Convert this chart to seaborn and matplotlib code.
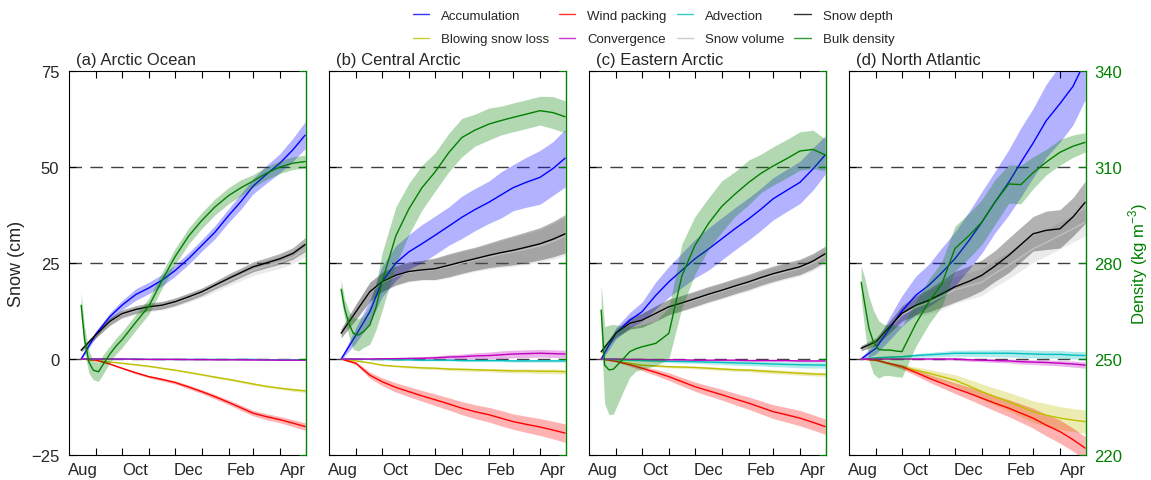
import matplotlib
matplotlib.use("Agg")
import matplotlib.pyplot as plt
from matplotlib.lines import Line2D
import numpy as np
import seaborn as sns

# days since 1 Aug
days = [14, 31, 47, 61, 77, 92, 107, 122, 138, 153, 168, 184, 198, 212, 227, 243, 258, 272]
dens_days = [14, 18, 23, 28, 34, 40, 47, 54, 61, 77, 92, 107, 122, 138, 153, 168,
             184, 198, 212, 227, 243, 258, 272]

month_starts = [0, 31, 61, 92, 122, 153, 184, 212, 243, 273]
month_mids = [15.5, 76.5, 137.5, 198, 258]
month_labels = ["Aug", "Oct", "Dec", "Feb", "Apr"]

panels = ["a", "b", "c", "d"]
titles = ["(a) Arctic Ocean", "(b) Central Arctic", "(c) Eastern Arctic", "(d) North Atlantic"]

# snow budget terms (cm) and their spread
accumulation = {
    "a": [0, 6.5, 11, 14, 16.8, 18.5, 20.5, 23, 26.2, 29.6, 33, 37.4, 41, 45, 48, 51, 54.5, 58.3],
    "b": [0, 6.2, 12.3, 20.1, 25, 27.9, 30, 32.2, 34.6, 36.9, 38.9, 40.8, 42.7, 44.6, 46, 47.3, 49.6, 52.3],
    "c": [0, 6.7, 10.1, 12.3, 16.6, 20.1, 23.1, 26.1, 28.7, 31.3, 33.9, 36.5, 39, 41.7, 43.8, 46, 49.5, 53.1],
    "d": [0, 2.8, 8, 12.5, 16.6, 19.2, 22.5, 26.1, 30.8, 35.6, 40.8, 46, 51.2, 56.2, 62, 66.5, 71, 77.5],
}
accumulation_sd = {
    "a": [0.3, 0.8, 1, 1.2, 1.5, 1.5, 1.5, 1.5, 1.5, 1.5, 1.7, 1.8, 2, 2, 2.3, 2.5, 3, 3.5],
    "b": [0.3, 2, 3, 4, 4.5, 4.5, 5, 5, 5, 5.5, 5.5, 5.5, 6, 6, 6.5, 7, 7, 7.5],
    "c": [0.5, 1.5, 2, 2.5, 3.5, 4, 4.5, 5, 5.5, 5.5, 5.5, 5.5, 5.5, 5.5, 5.5, 5.5, 5.5, 5],
    "d": [0.5, 1.5, 3, 4, 5, 5.5, 6.5, 7, 7.5, 8, 8, 8.5, 9, 9, 9.5, 10, 10, 10],
}
blowing = {
    "a": [0, -0.4, -0.8, -1.1, -1.5, -1.9, -2.4, -2.9, -3.5, -4.1, -4.7, -5.3, -5.9, -6.5, -7.1, -7.6, -8.0, -8.3],
    "b": [0, -0.5, -1.0, -1.6, -1.9, -2.1, -2.3, -2.4, -2.6, -2.7, -2.8, -2.9, -3.0, -3.1, -3.1, -3.2, -3.2, -3.3],
    "c": [0, -0.5, -1.1, -1.6, -1.8, -2.0, -2.1, -2.2, -2.4, -2.6, -2.8, -2.9, -3.1, -3.3, -3.5, -3.7, -3.9, -4.0],
    "d": [0, -0.3, -1.2, -2, -2.9, -3.7, -4.6, -5.5, -7, -8.5, -9.8, -11.1, -12.4, -13.7, -14.6, -15.4, -15.9, -16.3],
}
blowing_sd = {
    "a": [0, 0.1, 0.1, 0.1, 0.2, 0.2, 0.2, 0.2, 0.2, 0.2, 0.3, 0.3, 0.3, 0.3, 0.3, 0.3, 0.4, 0.4],
    "b": [0, 0.1, 0.1, 0.2, 0.2, 0.3, 0.3, 0.3, 0.4, 0.4, 0.4, 0.4, 0.5, 0.5, 0.5, 0.6, 0.6, 0.6],
    "c": [0, 0.1, 0.1, 0.2, 0.2, 0.3, 0.3, 0.3, 0.4, 0.4, 0.4, 0.4, 0.5, 0.5, 0.5, 0.5, 0.5, 0.5],
    "d": [0, 0.1, 0.3, 0.5, 0.8, 1, 1.2, 1.4, 1.7, 2, 2.2, 2.4, 2.6, 2.8, 3, 3, 3, 3],
}
wind = {
    "a": [0, -0.3, -1.3, -2.4, -3.6, -4.6, -5.3, -6.1, -7.3, -8.5, -9.8, -11.3, -12.7, -14.1, -15.0, -15.8, -16.7, -17.6],
    "b": [0, -1.1, -4.2, -5.9, -7.4, -8.5, -9.6, -10.6, -11.7, -12.8, -13.7, -14.5, -15.4, -16.3, -17, -17.7, -18.5, -19.3],
    "c": [0, -0.6, -1.5, -2.4, -3.5, -4.6, -5.9, -7.2, -8.3, -9.3, -10.4, -11.5, -12.6, -13.7, -14.5, -15.4, -16.5, -17.6],
    "d": [0, -0.3, -1.2, -2, -3.5, -5, -6.3, -7.6, -8.9, -10.2, -11.5, -12.8, -14.1, -15.4, -17.2, -18.9, -21, -23.2],
}
wind_sd = {
    "a": [0, 0.1, 0.2, 0.2, 0.3, 0.3, 0.4, 0.4, 0.5, 0.5, 0.6, 0.6, 0.7, 0.7, 0.8, 0.8, 0.9, 1],
    "b": [0.1, 0.4, 0.8, 1, 1.2, 1.3, 1.4, 1.5, 1.6, 1.7, 1.8, 1.9, 2, 2, 2.1, 2.2, 2.3, 2.4],
    "c": [0.1, 0.2, 0.4, 0.6, 0.8, 1, 1.1, 1.2, 1.3, 1.4, 1.5, 1.6, 1.7, 1.8, 1.9, 2, 2, 2],
    "d": [0.1, 0.2, 0.4, 0.6, 0.8, 1, 1.2, 1.4, 1.6, 1.8, 2, 2.2, 2.4, 2.6, 2.8, 3, 3, 3],
}
advection = {
    "a": [0, 0, 0, 0, 0, -0.1, -0.1, -0.1, -0.1, -0.1, -0.1, -0.1, -0.1, -0.1, -0.2, -0.2, -0.2, -0.2],
    "b": [0, 0, -0.1, -0.1, -0.2, -0.2, -0.3, -0.3, -0.3, -0.4, -0.4, -0.4, -0.4, -0.5, -0.5, -0.5, -0.5, -0.5],
    "c": [0, -0.2, -0.3, -0.4, -0.5, -0.6, -0.65, -0.7, -0.8, -0.9, -1.0, -1.1, -1.2, -1.3, -1.4, -1.5, -1.55, -1.6],
    "d": [0, 0.3, 0.5, 0.6, 0.9, 1.1, 1.3, 1.5, 1.5, 1.5, 1.5, 1.5, 1.4, 1.3, 1.2, 1.2, 1.0, 0.9],
}
advection_sd = {
    "a": [0, 0.05, 0.05, 0.05, 0.1, 0.1, 0.1, 0.1, 0.1, 0.1, 0.1, 0.1, 0.1, 0.1, 0.1, 0.1, 0.1, 0.1],
    "b": [0, 0.1, 0.1, 0.1, 0.2, 0.2, 0.2, 0.2, 0.2, 0.3, 0.3, 0.3, 0.3, 0.3, 0.3, 0.3, 0.3, 0.3],
    "c": [0, 0.1, 0.2, 0.2, 0.3, 0.3, 0.4, 0.4, 0.5, 0.5, 0.6, 0.6, 0.6, 0.7, 0.7, 0.8, 0.8, 0.8],
    "d": [0, 0.2, 0.3, 0.4, 0.5, 0.6, 0.7, 0.8, 0.8, 0.9, 0.9, 1, 1, 1, 1, 1, 1, 1],
}
convergence = {
    "a": [0, 0, 0, 0, -0.05, -0.1, -0.1, -0.1, -0.15, -0.15, -0.2, -0.2, -0.2, -0.25, -0.25, -0.3, -0.3, -0.3],
    "b": [0, 0, 0, 0.05, 0.1, 0.15, 0.2, 0.3, 0.5, 0.6, 0.8, 0.9, 1.1, 1.3, 1.4, 1.5, 1.4, 1.3],
    "c": [0, 0, -0.1, -0.1, -0.2, -0.2, -0.2, -0.3, -0.3, -0.3, -0.3, -0.4, -0.4, -0.4, -0.4, -0.5, -0.5, -0.5],
    "d": [0, 0, 0, 0, 0, 0, 0, 0, -0.2, -0.3, -0.4, -0.5, -0.7, -0.8, -0.9, -1.1, -1.3, -1.6],
}
convergence_sd = {
    "a": [0, 0.05, 0.05, 0.05, 0.05, 0.1, 0.1, 0.1, 0.1, 0.1, 0.1, 0.1, 0.1, 0.1, 0.1, 0.1, 0.1, 0.1],
    "b": [0, 0.1, 0.1, 0.2, 0.2, 0.3, 0.4, 0.5, 0.6, 0.7, 0.8, 0.9, 1, 1, 1, 1, 1, 1],
    "c": [0, 0.05, 0.1, 0.1, 0.1, 0.1, 0.1, 0.15, 0.15, 0.15, 0.2, 0.2, 0.2, 0.2, 0.2, 0.2, 0.2, 0.2],
    "d": [0, 0.1, 0.1, 0.1, 0.2, 0.2, 0.3, 0.3, 0.4, 0.4, 0.5, 0.5, 0.6, 0.6, 0.7, 0.7, 0.8, 0.8],
}
snow_depth = {
    "a": [2.3, 6.3, 9.8, 11.8, 12.9, 13.6, 14, 14.9, 16.2, 17.5, 19.2, 21, 22.5, 24, 25, 26.1, 27.5, 29.8],
    "b": [6.7, 12.3, 17.5, 20.1, 21.8, 22.8, 23.2, 23.5, 24.4, 25.3, 26.1, 27, 27.7, 28.3, 29.1, 30, 31.2, 32.6],
    "c": [1.9, 6.7, 9.3, 10.1, 11.9, 13.6, 14.6, 15.7, 16.9, 17.9, 19, 20.1, 21.2, 22.2, 23.1, 24, 25.5, 27.4],
    "d": [2.8, 4.5, 8.4, 11.9, 14, 15.3, 17, 18.8, 20.2, 21.8, 24.2, 27, 29.8, 32.6, 33.5, 33.9, 37, 40.8],
}
snow_depth_sd = {
    "a": [0.5, 0.8, 1, 1, 1, 1, 1, 1, 1, 1, 1, 1.2, 1.2, 1.3, 1.3, 1.4, 1.5, 1.8],
    "b": [1.2, 2, 2.5, 2.5, 2.5, 2.5, 2.5, 2.8, 3, 3, 3, 3.2, 3.5, 3.8, 4, 4.2, 4.6, 5],
    "c": [0.5, 1, 1.5, 1.8, 2, 2, 2, 2, 2, 2, 2, 2, 2, 2, 2, 2, 2, 2],
    "d": [0.7, 1, 1.5, 2, 2.5, 3, 3.5, 4, 4, 4, 4, 4.5, 4.5, 4.5, 5, 5, 5, 5.5],
}
snow_volume = {
    "a": [2.3, 6.3, 9.6, 11.5, 12.6, 13.3, 13.8, 14.6, 15.9, 17.1, 18.7, 20.4, 21.8, 23.2, 24.2, 25.2, 26.5, 28.6],
    "b": [6.7, 12.2, 17.3, 19.9, 21.6, 22.6, 23.0, 23.3, 24.1, 25.0, 25.8, 26.6, 27.3, 27.9, 28.6, 29.5, 30.6, 32.0],
    "c": [1.9, 6.6, 9.2, 10.0, 11.7, 13.4, 14.4, 15.4, 16.6, 17.6, 18.7, 19.7, 20.8, 21.8, 22.7, 23.6, 25.0, 26.8],
    "d": [2.8, 4.5, 8.2, 11.5, 13.5, 14.7, 16.3, 18, 19, 20, 22.3, 24.4, 26.5, 28.7, 30.3, 32.2, 33.9, 35.6],
}
snow_volume_sd = {
    "a": [0.5, 0.8, 1, 1, 1, 1, 1, 1, 1.1, 1.1, 1.2, 1.3, 1.4, 1.5, 1.5, 1.6, 1.7, 2],
    "b": [1.2, 2, 2.5, 2.5, 2.5, 2.5, 2.5, 2.8, 3, 3, 3, 3.2, 3.5, 3.8, 4, 4.2, 4.6, 5],
    "c": [0.5, 1, 1.5, 1.8, 2, 2, 2, 2, 2, 2, 2, 2, 2, 2, 2, 2, 2, 2.2],
    "d": [0.7, 1, 1.5, 2, 2.5, 3, 3.5, 3.5, 3.5, 3.5, 3.5, 3.5, 3.5, 3.5, 3.5, 3.5, 3.5, 3.5],
}
# bulk density (kg m-3) on dens_days
density = {
    "a": [266.8, 256, 249, 246.5, 246, 248.6, 251.5, 254, 256, 261.5, 266.5, 274.5, 281.9, 288.5,
          293.3, 297.5, 301.1, 303.5, 305.6, 308, 310, 311.2, 311.7],
    "b": [271.8, 265.8, 261, 258, 257.5, 258.6, 260.6, 266, 274, 288.5, 296.9, 303.5, 308.4, 314.5,
          319.2, 321.5, 323.4, 324.5, 325.5, 326.5, 327.6, 327, 325.7],
    "c": [265.3, 248.1, 246.6, 246.8, 248.5, 250.2, 252.3, 253.2, 253.8, 254.9, 258, 276, 285.5, 292.5,
          297.7, 301.5, 305.2, 308, 310.3, 312.5, 315, 315.5, 313.8],
    "d": [274, 267.5, 259.5, 255.4, 253, 252.8, 252.8, 252.5, 252.3, 261, 267.9, 273.5, 284.5, 288.5,
          292.8, 299, 304.7, 304.5, 308.2, 311.5, 314.6, 316.5, 317.7],
}
density_sd = {
    "a": [4, 4, 3.5, 3, 3, 3, 2.5, 2.5, 2.5, 2.5, 2.5, 2.5, 2.5, 2.5, 2.5, 2.5, 2.5, 2.5, 2, 2, 2, 2, 2],
    "b": [3, 3, 4, 5, 5, 5, 6, 7, 9, 9, 8, 7, 6, 6, 6, 5, 5, 4.5, 4.5, 4.5, 4.5, 5, 5],
    "c": [8, 12, 14, 14, 12, 10, 8, 7, 7, 7, 8, 10, 9, 8, 8, 7, 7, 6, 6, 6, 6, 6, 5],
    "d": [5, 8, 10, 10, 9, 8, 8, 8, 8, 7, 7, 7, 7, 7, 7, 7, 6, 6, 5, 4, 4, 3.5, 3],
}

snow_series = [
    ("Snow volume", snow_volume, snow_volume_sd, "0.75"),
    ("Accumulation", accumulation, accumulation_sd, (0, 0, 1)),
    ("Snow depth", snow_depth, snow_depth_sd, "k"),
    ("Blowing snow loss", blowing, blowing_sd, (0.75, 0.75, 0)),
    ("Wind packing", wind, wind_sd, (1, 0, 0)),
    ("Advection", advection, advection_sd, (0, 0.75, 0.75)),
    ("Convergence", convergence, convergence_sd, (0.75, 0, 0.75)),
]
green = (0, 0.5, 0)

sns.set_style("ticks")
plt.rcParams["font.family"] = ["Liberation Sans", "DejaVu Sans"]
plt.rcParams["font.size"] = 12
plt.rcParams["mathtext.fontset"] = "custom"
plt.rcParams["mathtext.rm"] = "Liberation Sans"

fig = plt.figure(figsize=(11.51, 4.81), dpi=100)
W, H = 1151, 481
lefts = [69, 329, 589, 849]
for i, p in enumerate(panels):
    ax = fig.add_axes([lefts[i] / W, 1 - 456 / H, 237 / W, 384 / H])
    ax2 = ax.twinx()
    for y0 in [0, 25, 50]:
        ax.axhline(y0, color="k", lw=1, ls=(0, (9, 6)), alpha=0.75, zorder=1)
    for name, vals, sd, col in snow_series:
        v = np.array(vals[p])
        s = np.array(sd[p])
        ax.fill_between(days, v - s, v + s, color=col, alpha=0.3, lw=0, zorder=2)
    for name, vals, sd, col in snow_series:
        sns.lineplot(x=days, y=vals[p], ax=ax, color=col, lw=1, zorder=3)
    d = np.array(density[p])
    ds = np.array(density_sd[p])
    ax2.fill_between(dens_days, d - ds, d + ds, color=green, alpha=0.3, lw=0)
    sns.lineplot(x=dens_days, y=density[p], ax=ax2, color=green, lw=1)

    ax.set_xlim(0, 273)
    ax.set_ylim(-25, 75)
    ax2.set_ylim(220, 340)
    ax.set_xticks(month_starts[1:-1])
    ax.set_xticklabels([])
    ax.set_xticks(month_mids, minor=True)
    ax.set_xticklabels(month_labels, minor=True)
    ax.tick_params(axis="x", which="major", direction="in", length=5, top=True, bottom=True, color="k")
    ax.tick_params(axis="x", which="minor", length=0, pad=5, labelsize=12)
    ax.set_yticks([-25, 0, 25, 50, 75])
    ax.tick_params(axis="y", direction="in", length=5, labelsize=12, color="k", pad=7)
    ax2.set_yticks([220, 250, 280, 310, 340])
    ax2.tick_params(axis="y", direction="in", length=5, colors=green, labelsize=12, pad=6)
    for sp in ["left", "top", "bottom"]:
        ax.spines[sp].set_color("k")
        ax2.spines[sp].set_visible(False)
    ax.spines["right"].set_visible(False)
    ax2.spines["right"].set_color(green)
    ax2.spines["right"].set_linewidth(1)
    ax.set_xlabel("")
    ax.set_ylabel("")
    ax2.set_ylabel("")
    if i == 0:
        ax.set_ylabel("Snow (cm)", fontsize=13, labelpad=4)
    else:
        ax.set_yticklabels([])
    if i == 3:
        ax2.set_ylabel("Density (kg m$^{-3}$)", color=green, fontsize=12, labelpad=3)
    else:
        ax2.set_yticklabels([])
    ax.text(0.03, 1.01, titles[i], transform=ax.transAxes, ha="left", va="bottom", fontsize=12)

legend_order = [("Accumulation", (0, 0, 1)), ("Blowing snow loss", (0.75, 0.75, 0)),
                ("Wind packing", (1, 0, 0)), ("Convergence", (0.75, 0, 0.75)),
                ("Advection", (0, 0.75, 0.75)), ("Snow volume", "0.75"),
                ("Snow depth", "k"), ("Bulk density", green)]
handles = [Line2D([], [], color=c, lw=1, alpha=0.8) for _, c in legend_order]
labels = [n for n, _ in legend_order]
fig.legend(handles, labels, ncol=4, loc="upper left", bbox_to_anchor=(404 / W, 0.996),
           frameon=False, handlelength=1.25, handletextpad=0.9, columnspacing=0.75,
           labelspacing=0.85, borderaxespad=0.25, fontsize=9.5)

fig.savefig("out.png", dpi=100)
